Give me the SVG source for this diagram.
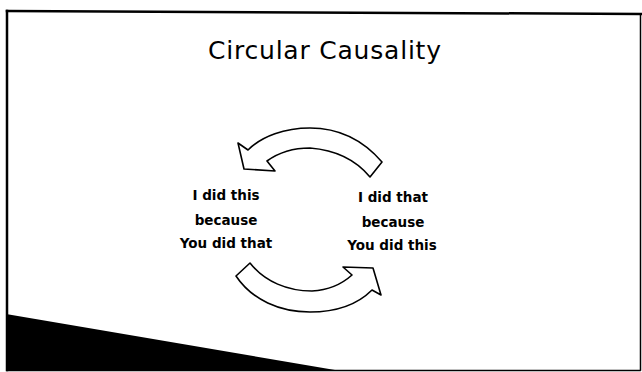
<svg xmlns="http://www.w3.org/2000/svg" width="642" height="372" viewBox="0 0 642 372">
  <style>
    .frame { stroke: #000; fill: none; stroke-linecap: square; }
    .title { font-family: "DejaVu Sans", Verdana, sans-serif; font-size: 25px; fill: #000; }
    .lbl { font-family: "DejaVu Sans", Verdana, sans-serif; font-size: 13.5px; font-weight: bold; fill: #000; text-anchor: middle; }
    .arrow { fill: #fff; stroke: #000; stroke-width: 1.6; stroke-linejoin: round; }
  </style>
  <rect x="0" y="0" width="642" height="372" fill="#fff"/>
  <g id="frame">
    <line class="frame" x1="7" y1="11" x2="642" y2="14" stroke-width="2.5"/>
    <line class="frame" x1="7" y1="11" x2="7" y2="370" stroke-width="2.5"/>
    <line class="frame" x1="7" y1="370.5" x2="640" y2="370.5" stroke="#333" stroke-width="1.5"/>
    <line class="frame" x1="640.5" y1="14" x2="640.5" y2="370" stroke="#333" stroke-width="1.5"/>
    <polygon points="6,314 335,370 6,370" fill="#000"/>
  </g>
  <g id="title">
    <text class="title" x="208" y="59" textLength="233" lengthAdjust="spacing">Circular Causality</text>
  </g>
  <g id="node-left">
    <text class="lbl" x="226" y="200">I did this</text>
    <text class="lbl" x="226" y="225">because</text>
    <text class="lbl" x="226" y="248">You did that</text>
  </g>
  <g id="node-right">
    <text class="lbl" x="393" y="202">I did that</text>
    <text class="lbl" x="393" y="227">because</text>
    <text class="lbl" x="392" y="250">You did this</text>
  </g>
  <g id="connectors">
    <path class="arrow" d="M238,143 L248,150 C262,136 285,128 310,128 C338,128 363,140 382,162 L370,177 C356,160 335,150 310,148 C293,148 278,153 267,161 L275,171 L244,169 Z"/>
    <path class="arrow" d="M236,276 L250,263 C265,282 288,291 312,291 C330,290 342,284 352,275 L343,267 L373,268 L381,295 L372,290 C357,305 335,312 310,312 C280,312 252,300 236,276 Z"/>
  </g>
</svg>
